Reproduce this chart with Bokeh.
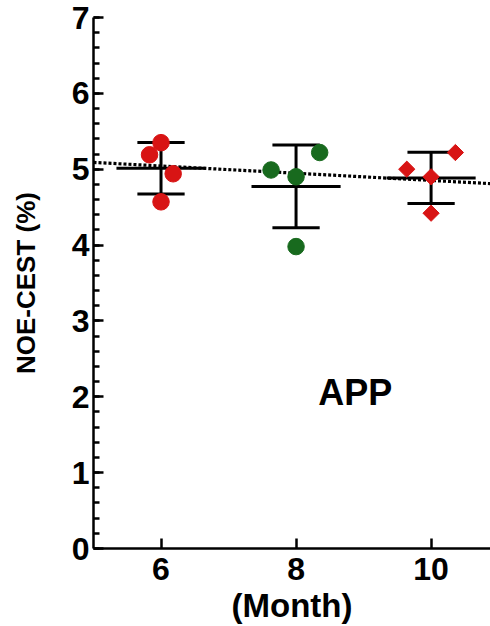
import numpy as np
from bokeh.plotting import figure
from bokeh.models import Range1d, FixedTicker, Label
from bokeh.embed import file_html
from bokeh.resources import INLINE

# ---- data ----
months = [6, 8, 10]
m6_x = [5.83, 6.00, 6.18, 6.00]
m6_y = [5.19, 5.35, 4.94, 4.57]
m8_x = [7.63, 8.00, 8.35, 8.00]
m8_y = [4.99, 4.90, 5.22, 3.98]
m10_x = [9.64, 10.00, 10.36, 10.00]
m10_y = [5.00, 4.90, 5.22, 4.42]
trend_x = [5.0, 10.88]
trend_y = [5.09, 4.81]
x_ticks = [6, 8, 10]
y_ticks = [0, 1, 2, 3, 4, 5, 6, 7]

RED = "#d81414"
GREEN = "#186a1e"
FONT = "Liberation Sans"

p = figure(width=490, height=626, output_backend="svg", toolbar_location=None,
           x_range=Range1d(5.0, 10.88), y_range=Range1d(0, 7),
           min_border_left=93, min_border_right=0, min_border_top=17, min_border_bottom=78)
p.outline_line_color = None
p.grid.grid_line_color = None
p.background_fill_color = "white"
p.border_fill_color = "white"

# trend line
p.line(trend_x, trend_y, line_color="black", line_width=3.2, line_dash="3 2")

# mean +/- SD
groups = [(m6_x, m6_y), (m8_x, m8_y), (m10_x, m10_y)]
means = [float(np.mean(g[1])) for g in groups]
sds = [float(np.std(g[1], ddof=1)) for g in groups]
mean_half = 0.66
cap_half = 0.35
for m, mu, sd in zip(months, means, sds):
    p.segment(x0=[m - mean_half], y0=[mu], x1=[m + mean_half], y1=[mu],
              line_color="black", line_width=3)
    p.segment(x0=[m], y0=[mu - sd], x1=[m], y1=[mu + sd],
              line_color="black", line_width=3)
    p.segment(x0=[m - cap_half, m - cap_half], y0=[mu - sd, mu + sd],
              x1=[m + cap_half, m + cap_half], y1=[mu - sd, mu + sd],
              line_color="black", line_width=3)

# points
p.scatter(m6_x, m6_y, marker="circle", size=16.5, fill_color=RED, line_color=RED)
p.scatter(m8_x, m8_y, marker="circle", size=16.5, fill_color=GREEN, line_color=GREEN)
p.scatter(m10_x, m10_y, marker="square", angle=np.pi / 4, size=11.5,
          fill_color=RED, line_color=RED)

p.add_layout(Label(x=8.33, y=2.05, text="APP", text_font=FONT, text_font_size="36px",
                   text_font_style="bold", text_color="black",
                   text_baseline="alphabetic", text_align="left"))

# axes
for ax in (p.xaxis[0], p.yaxis[0]):
    ax.axis_line_width = 2.5
    ax.major_tick_line_width = 2.5
    ax.minor_tick_line_width = 2.5
    ax.major_tick_in = 10
    ax.major_tick_out = 0
    ax.major_label_text_font = FONT
    ax.major_label_text_font_style = "bold"
    ax.major_label_text_font_size = "32px"
    ax.major_label_text_color = "black"
    ax.axis_label_text_font = FONT
    ax.axis_label_text_font_style = "bold"
    ax.axis_label_text_color = "black"

p.xaxis.ticker = FixedTicker(ticks=x_ticks)
p.xaxis.minor_tick_line_color = None
p.xaxis.axis_label = "(Month)"
p.xaxis.axis_label_text_font_size = "33px"
p.xaxis.major_label_standoff = 9
p.xaxis.axis_label_standoff = 4

p.yaxis.ticker = FixedTicker(ticks=y_ticks,
                             minor_ticks=[round(i * 0.2, 1) for i in range(36)])
p.yaxis.minor_tick_in = 6
p.yaxis.minor_tick_out = 0
p.yaxis.axis_label = "NOE-CEST (%)"
p.yaxis.axis_label_text_font_size = "26px"
p.yaxis.major_label_standoff = 4
p.yaxis.axis_label_standoff = 28

open("out.html", "w").write(file_html(p, INLINE))
